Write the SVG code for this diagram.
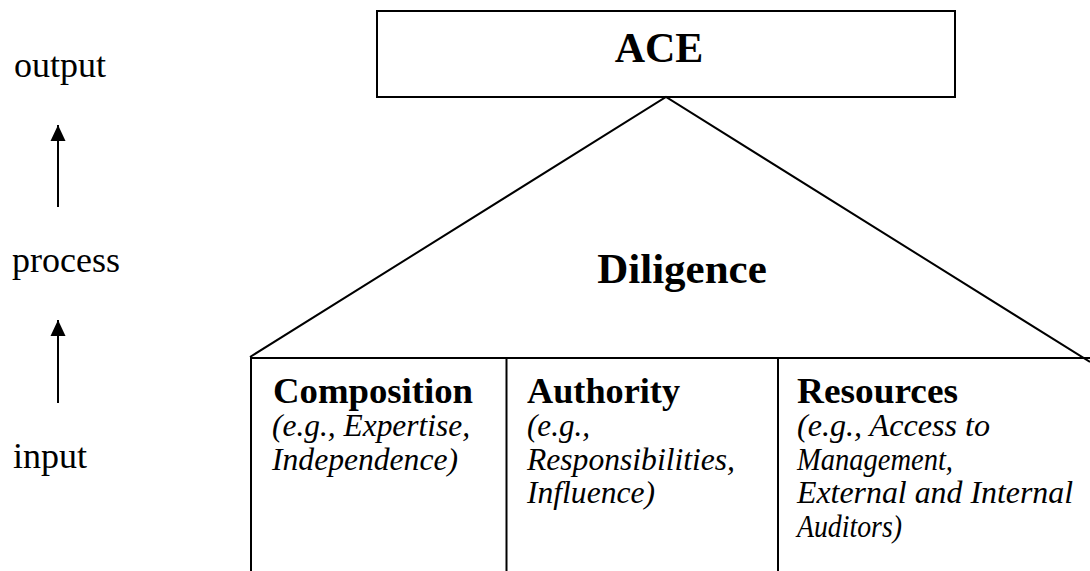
<svg xmlns="http://www.w3.org/2000/svg" width="1090" height="571" viewBox="0 0 1090 571">
<style>
.ln{fill:none;stroke:#000;stroke-width:2}
text{font-family:'Liberation Serif','Times New Roman',Times,serif;fill:#000}
.lab{font-size:36px}
.b{font-weight:bold}
.it{font-style:italic;font-size:31px}
</style>
<defs>
<marker id="up" viewBox="0 0 16 16" refX="8" refY="0" markerWidth="16" markerHeight="16" markerUnits="userSpaceOnUse" orient="0">
<path d="M8,0 L15.5,16 L0.5,16 Z" fill="#000"/>
</marker>
</defs>
<rect width="1090" height="571" fill="#fff"/>
<g id="labels">
<text class="lab" x="14" y="77">output</text>
<text class="lab" x="12" y="272">process</text>
<text class="lab" x="13" y="468">input</text>
</g>
<g id="connectors">
<line class="ln" x1="58" y1="207" x2="58" y2="125" stroke-width="1.6" marker-end="url(#up)"/>
<line class="ln" x1="58" y1="403" x2="58" y2="320" stroke-width="1.6" marker-end="url(#up)"/>
</g>
<g id="ace">
<rect class="ln" x="377" y="11" width="578" height="86"/>
<text class="b" x="659" y="62" font-size="42" text-anchor="middle">ACE</text>
</g>
<g id="diligence">
<path class="ln" d="M250,357 L666,97 L1090,362"/>
<text class="b" x="682" y="283" font-size="43" text-anchor="middle">Diligence</text>
</g>
<g id="base">
<path class="ln" d="M251,571 L251,358 L1092,358"/>
<line class="ln" x1="506.5" y1="358" x2="506.5" y2="571"/>
<line class="ln" x1="778" y1="358" x2="778" y2="571"/>
</g>
<g id="composition">
<text class="b" x="273" y="403" font-size="36" textLength="200" lengthAdjust="spacingAndGlyphs">Composition</text>
<text class="it" x="272" y="436" textLength="198" lengthAdjust="spacingAndGlyphs">(e.g., Expertise,</text>
<text class="it" x="272" y="470" textLength="186" lengthAdjust="spacingAndGlyphs">Independence)</text>
</g>
<g id="authority">
<text class="b" x="527" y="403" font-size="36" textLength="153" lengthAdjust="spacingAndGlyphs">Authority</text>
<text class="it" x="527" y="436" textLength="63" lengthAdjust="spacingAndGlyphs">(e.g.,</text>
<text class="it" x="527" y="470" textLength="208" lengthAdjust="spacingAndGlyphs">Responsibilities,</text>
<text class="it" x="527" y="503" textLength="128" lengthAdjust="spacingAndGlyphs">Influence)</text>
</g>
<g id="resources">
<text class="b" x="797" y="403" font-size="36" textLength="161" lengthAdjust="spacingAndGlyphs">Resources</text>
<text class="it" x="797" y="436" textLength="193" lengthAdjust="spacingAndGlyphs">(e.g., Access to</text>
<text class="it" x="797" y="470" textLength="156" lengthAdjust="spacingAndGlyphs">Management,</text>
<text class="it" x="797" y="503" textLength="276" lengthAdjust="spacingAndGlyphs">External and Internal</text>
<text class="it" x="797" y="537" textLength="105" lengthAdjust="spacingAndGlyphs">Auditors)</text>
</g>
</svg>
